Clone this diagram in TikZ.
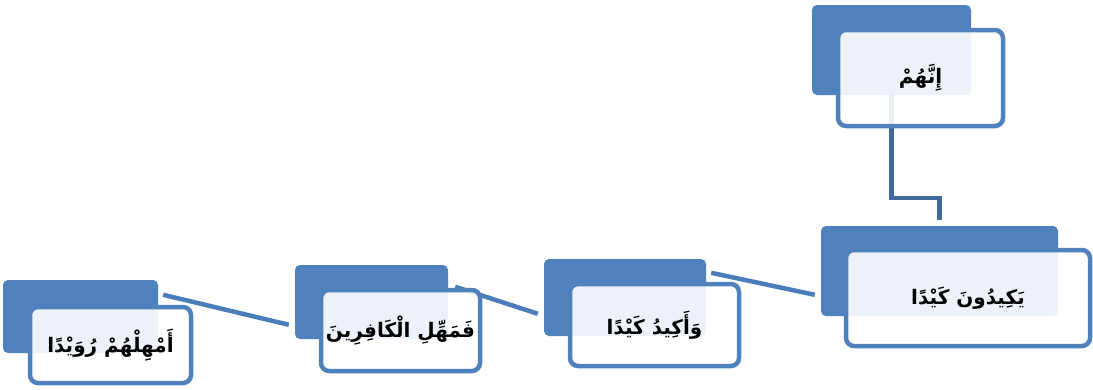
\documentclass[tikz,border=0pt]{standalone}
\usepackage{fontspec}
\TeXXeTstate=1
\newfontfamily\arabicfont[Script=Arabic]{DejaVu Sans}
\usetikzlibrary{calc,backgrounds}
\definecolor{accblue}{HTML}{4F81BD}
\definecolor{linkblue}{HTML}{4A7DBA}
\definecolor{elbowblue}{HTML}{41699C}
\tikzset{
  bluebox/.style={draw=none, fill=accblue, rounded corners=5pt, inner sep=0pt},
  textbox/.style={draw=accblue, line width=4.5pt, fill=white, fill opacity=0.9, text opacity=1,
    rounded corners=8pt, inner sep=0pt, font=\arabicfont\bfseries\fontsize{20}{24}\selectfont},
  link/.style={draw=linkblue, line width=4.5pt},
  elbow/.style={draw=elbowblue, line width=4.5pt}
}
\begin{document}
\begin{tikzpicture}[x=1pt,y=-1pt]
\useasboundingbox (0,0) rectangle (1093,389);
% blue backing rectangles
\node[bluebox, minimum width=159pt, minimum height=90pt] (b1) at (891.5,50) {};
\node[bluebox, minimum width=237pt, minimum height=90pt] (b2) at (939.5,271) {};
\node[bluebox, minimum width=162pt, minimum height=77pt] (b3) at (625,297.5) {};
\node[bluebox, minimum width=153pt, minimum height=74pt] (b4) at (371.5,302) {};
\node[bluebox, minimum width=155pt, minimum height=73pt] (b5) at (80.5,316.5) {};
% connectors underneath
\begin{scope}[on background layer]
\draw[elbow] (b1.south) -- ++(0,103) -| ($(b2.north)+(0,-6)$);
\draw[link] ($(b5.north east)+(5,15)$) -- ($(b4.north west)+(-6,60)$);
\draw[link] ($(b4.north east)+(7,22)$) -- ($(b3.north west)+(-6,55)$);
\draw[link] ($(b3.north east)+(5,14)$) -- ($(b2.north west)+(-6,69)$);
\end{scope}
% text boxes
\node[textbox, minimum width=165pt, minimum height=96pt] (t1) at (920.5,78) {\beginR إِنَّهُمْ\endR};
\node[textbox, minimum width=244pt, minimum height=96pt] (t2) at (968,298) {\beginR يَكِيدُونَ كَيْدًا\endR};
\node[textbox, minimum width=169pt, minimum height=82pt] (t3) at (654.5,325) {\beginR وَأَكِيدُ كَيْدًا\endR};
\node[textbox, minimum width=159pt, minimum height=81pt] (t4) at (400.5,330.5) {\beginR فَمَهِّلِ الْكَافِرِينَ\endR};
\node[textbox, minimum width=161pt, minimum height=76pt] (t5) at (110.5,345) {\beginR أَمْهِلْهُمْ رُوَيْدًا\endR};
\end{tikzpicture}
\end{document}
